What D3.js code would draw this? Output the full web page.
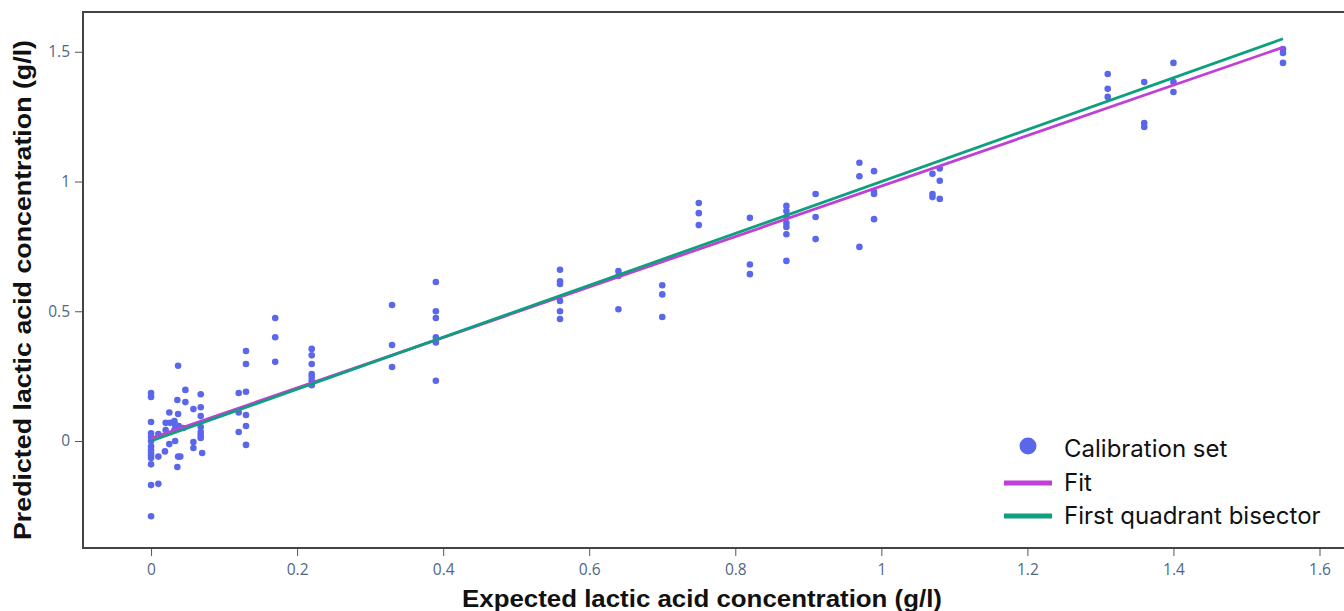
<!DOCTYPE html>
<html><head><meta charset="utf-8">
<script src="https://cdn.jsdelivr.net/npm/d3@7"></script>
<style>html,body{margin:0;padding:0;background:#fff;overflow:hidden}</style>
</head><body><svg id="c" width="1344" height="611"></svg>
<script>
// Calibration set: expected (x) and predicted (y) lactic acid concentrations (g/l)
const expected = [
  0,0,0,0,0,0,0,0,0,0,0,0,0,0,
  0.01,0.01,0.01,
  0.019,0.02,0.02,0.025,0.025,0.026,
  0.032,0.032,0.033,0.033,0.036,0.036,0.037,0.037,0.037,0.038,0.04,
  0.044,0.047,0.047,0.058,0.058,0.058,
  0.068,0.068,0.068,0.068,0.068,0.068,0.068,0.07,
  0.12,0.12,0.12,0.13,0.13,0.13,0.13,0.13,0.13,
  0.17,0.17,0.17,
  0.22,0.22,0.22,0.22,0.22,0.22,0.22,
  0.33,0.33,0.33,
  0.39,0.39,0.39,0.39,0.39,0.39,
  0.56,0.56,0.56,0.56,0.56,0.56,
  0.64,0.64,0.64,
  0.70,0.70,0.70,
  0.75,0.75,0.75,
  0.82,0.82,0.82,
  0.87,0.87,0.87,0.87,0.87,0.87,0.87,
  0.91,0.91,0.91,
  0.97,0.97,0.97,
  0.99,0.99,0.99,0.99,
  1.07,1.07,1.07,
  1.08,1.08,1.08,
  1.31,1.31,1.31,
  1.36,1.36,1.36,
  1.40,1.40,1.40,
  1.55,1.55,1.55
];
const predicted = [
  0.185,0.17,0.073,0.03,0.015,0.0,-0.02,-0.035,-0.045,-0.055,-0.065,-0.09,-0.17,-0.29,
  0.027,-0.06,-0.165,
  -0.04,0.07,0.042,0.11,-0.012,0.07,
  0.077,0.042,0.062,0.0,0.158,-0.1,0.29,0.104,-0.06,0.058,-0.06,
  0.05,0.197,0.15,0.123,-0.004,-0.027,
  0.18,0.13,0.096,0.054,0.035,0.023,0.012,-0.046,
  0.185,0.11,0.035,0.347,0.297,0.19,0.1,0.058,-0.015,
  0.474,0.40,0.305,
  0.355,0.33,0.297,0.258,0.247,0.232,0.215,
  0.524,0.37,0.285,
  0.613,0.50,0.474,0.40,0.38,0.232,
  0.66,0.615,0.605,0.54,0.50,0.47,
  0.655,0.636,0.508,
  0.60,0.565,0.478,
  0.917,0.878,0.832,
  0.86,0.68,0.643,
  0.906,0.886,0.863,0.84,0.825,0.797,0.694,
  0.952,0.863,0.778,
  1.072,1.02,0.748,
  1.04,0.96,0.952,0.855,
  1.03,0.952,0.94,
  1.05,1.003,0.933,
  1.414,1.357,1.326,
  1.383,1.225,1.21,
  1.457,1.383,1.345,
  1.51,1.495,1.457
];
// Lines
const fitX = [0, 1.55];
const fitY = [0.01, 1.517];
const bisX = [0, 1.55];
const bisY = [0, 1.55];

const xTicks = [0,0.2,0.4,0.6,0.8,1,1.2,1.4,1.6];
const yTicks = [0,0.5,1,1.5];
const legendLabels = ["Calibration set","Fit","First quadrant bisector"];

const colDot = "#5b67eb", colFit = "#c03fd5", colBis = "#0ea07e";

const svg = d3.select("#c");
const L = 83, T = 12, R = 1352, B = 548;
const x = d3.scaleLinear().domain([-0.0932, 1.6445]).range([L, R]);
const y = d3.scaleLinear().domain([-0.4123, 1.6532]).range([B, T]);

const tickFont = "'Open Sans',sans-serif";
// axes
const xAxis = d3.axisBottom(x).tickValues(xTicks).tickFormat(d3.format("~g")).tickSize(7).tickPadding(8);
const gx = svg.append("g").attr("transform", `translate(0,${B+1})`).call(xAxis);
gx.select(".domain").remove();
gx.selectAll("line").attr("stroke","#555").attr("stroke-width",1);
gx.selectAll("text").attr("fill","#506784").attr("font-family",tickFont).attr("font-size",15.5);

const yAxis = d3.axisLeft(y).tickValues(yTicks).tickFormat(d3.format("~g")).tickSize(7).tickPadding(5);
const gy = svg.append("g").attr("transform", `translate(${L-1},0)`).call(yAxis);
gy.select(".domain").remove();
gy.selectAll("line").attr("stroke","#555").attr("stroke-width",1);
gy.selectAll("text").attr("fill","#506784").attr("font-family",tickFont).attr("font-size",15.5);

// frame
svg.append("rect").attr("x",L).attr("y",T).attr("width",R-L).attr("height",B-T)
  .attr("fill","none").attr("stroke","#444").attr("stroke-width",2);

svg.append("defs").append("clipPath").attr("id","pc").append("rect")
  .attr("x",L).attr("y",T).attr("width",R-L).attr("height",B-T);
const plot = svg.append("g").attr("clip-path","url(#pc)");

const pts = expected.map((d,i)=>({x:d,y:predicted[i]}));
plot.selectAll("circle.pt").data(pts).join("circle").attr("class","pt")
  .attr("cx",d=>x(d.x)).attr("cy",d=>y(d.y)).attr("r",3.3).attr("fill",colDot);

const line = d3.line().x(d=>x(d[0])).y(d=>y(d[1]));
plot.append("path").datum(fitX.map((d,i)=>[d,fitY[i]])).attr("d",line)
  .attr("stroke",colFit).attr("stroke-width",2.8).attr("fill","none");
plot.append("path").datum(bisX.map((d,i)=>[d,bisY[i]])).attr("d",line)
  .attr("stroke",colBis).attr("stroke-width",2.8).attr("fill","none");

// axis titles
const titleFont = "'Liberation Sans',Arial,sans-serif";
svg.append("text").attr("x",702).attr("y",607).attr("text-anchor","middle")
  .attr("font-family",titleFont).attr("font-weight","bold")
  .attr("font-size",24.5).attr("fill","#111")
  .attr("textLength",480).attr("lengthAdjust","spacingAndGlyphs")
  .text("Expected lactic acid concentration (g/l)");
svg.append("text").attr("transform","translate(31,290) rotate(-90)").attr("text-anchor","middle")
  .attr("font-family",titleFont).attr("font-weight","bold")
  .attr("font-size",24.5).attr("fill","#111")
  .attr("textLength",500).attr("lengthAdjust","spacingAndGlyphs")
  .text("Predicted lactic acid concentration (g/l)");

// legend
const lg = svg.append("g");
const ly = [449, 483, 516];
lg.append("circle").attr("cx",1028).attr("cy",446).attr("r",8.5).attr("fill",colDot);
lg.append("line").attr("x1",1004).attr("x2",1052).attr("y1",ly[1]).attr("y2",ly[1]).attr("stroke",colFit).attr("stroke-width",5);
lg.append("line").attr("x1",1004).attr("x2",1052).attr("y1",ly[2]).attr("y2",ly[2]).attr("stroke",colBis).attr("stroke-width",5);
legendLabels.forEach((t,i)=>{
  lg.append("text").attr("x",1064).attr("y",ly[i]).attr("dy","0.35em")
    .attr("font-family","Inter,'Noto Sans',sans-serif").attr("font-size",24).attr("fill","#111").text(t);
});
</script></body></html>
